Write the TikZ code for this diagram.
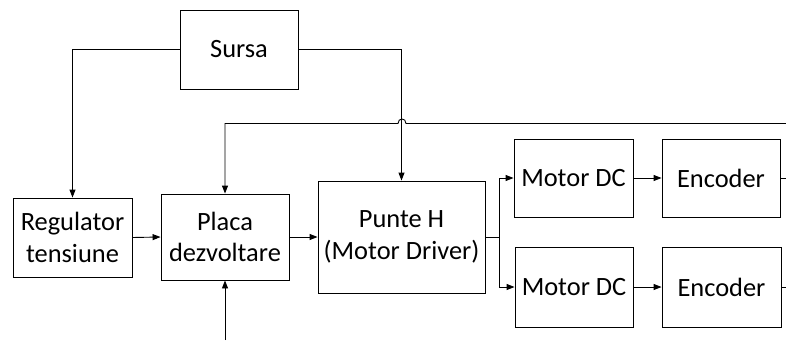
\documentclass[tikz,border=0pt]{standalone}
\usepackage{fontspec}
\setmainfont{Carlito}
\usetikzlibrary{arrows.meta}
\begin{document}
\begin{tikzpicture}[x=1pt,y=-1pt,
  blk/.style={draw,line width=0.9pt,inner sep=0pt,align=center,
    font=\fontsize{26.4}{31.5}\selectfont},
  wire/.style={line width=0.9pt},
  arr/.style={wire,-{Triangle[length=8pt,width=6pt]}}]
\useasboundingbox (0,0) rectangle (786,340);
\node[blk,minimum width=118pt,minimum height=79pt] (sursa) at (239,49.5) {Sursa};
\node[blk,minimum width=119pt,minimum height=79pt] (reg) at (72.5,237.5) {Regulator\\tensiune};
\node[blk,minimum width=128pt,minimum height=86pt] (placa) at (225,237) {Placa\\dezvoltare};
\node[blk,minimum width=167pt,minimum height=112pt] (punte) at (401.5,237) {Punte H\\(Motor Driver)};
\node[blk,minimum width=119pt,minimum height=78pt] (m1) at (573.5,178) {Motor DC};
\node[blk,minimum width=118pt,minimum height=78pt] (e1) at (721,178) {Encoder};
\node[blk,minimum width=118pt,minimum height=80pt] (m2) at (574,287) {Motor DC};
\node[blk,minimum width=119pt,minimum height=80pt] (e2) at (721.5,287) {Encoder};
\coordinate (br) at (499,237);
\coordinate (inb) at (225,340);
\coordinate (fb) at (786,123.5);
\coordinate (h1) at (406,123.5);
\coordinate (h2) at (398,123.5);
\coordinate (o1) at (786,178);
\coordinate (o2) at (786,287);
\draw[arr] (sursa.west) -| (reg.north);
\draw[arr] (sursa.east) -| (punte.north);
\draw[arr] (reg.east) -- (placa.west);
\draw[arr] (placa.east) -- (punte.west);
\draw[arr] (inb) -- (placa.south);
\draw[wire] (punte.east) -- (br);
\draw[arr] (br) |- (m1.west);
\draw[arr] (br) |- (m2.west);
\draw[arr] (m1.east) -- (e1.west);
\draw[arr] (m2.east) -- (e2.west);
\draw[wire] (e1.east) -- (o1);
\draw[wire] (e2.east) -- (o2);
\draw[arr] (fb) -- (h1) .. controls (406,117.5) and (398,117.5) .. (h2) -| (placa.north);
\end{tikzpicture}
\end{document}
